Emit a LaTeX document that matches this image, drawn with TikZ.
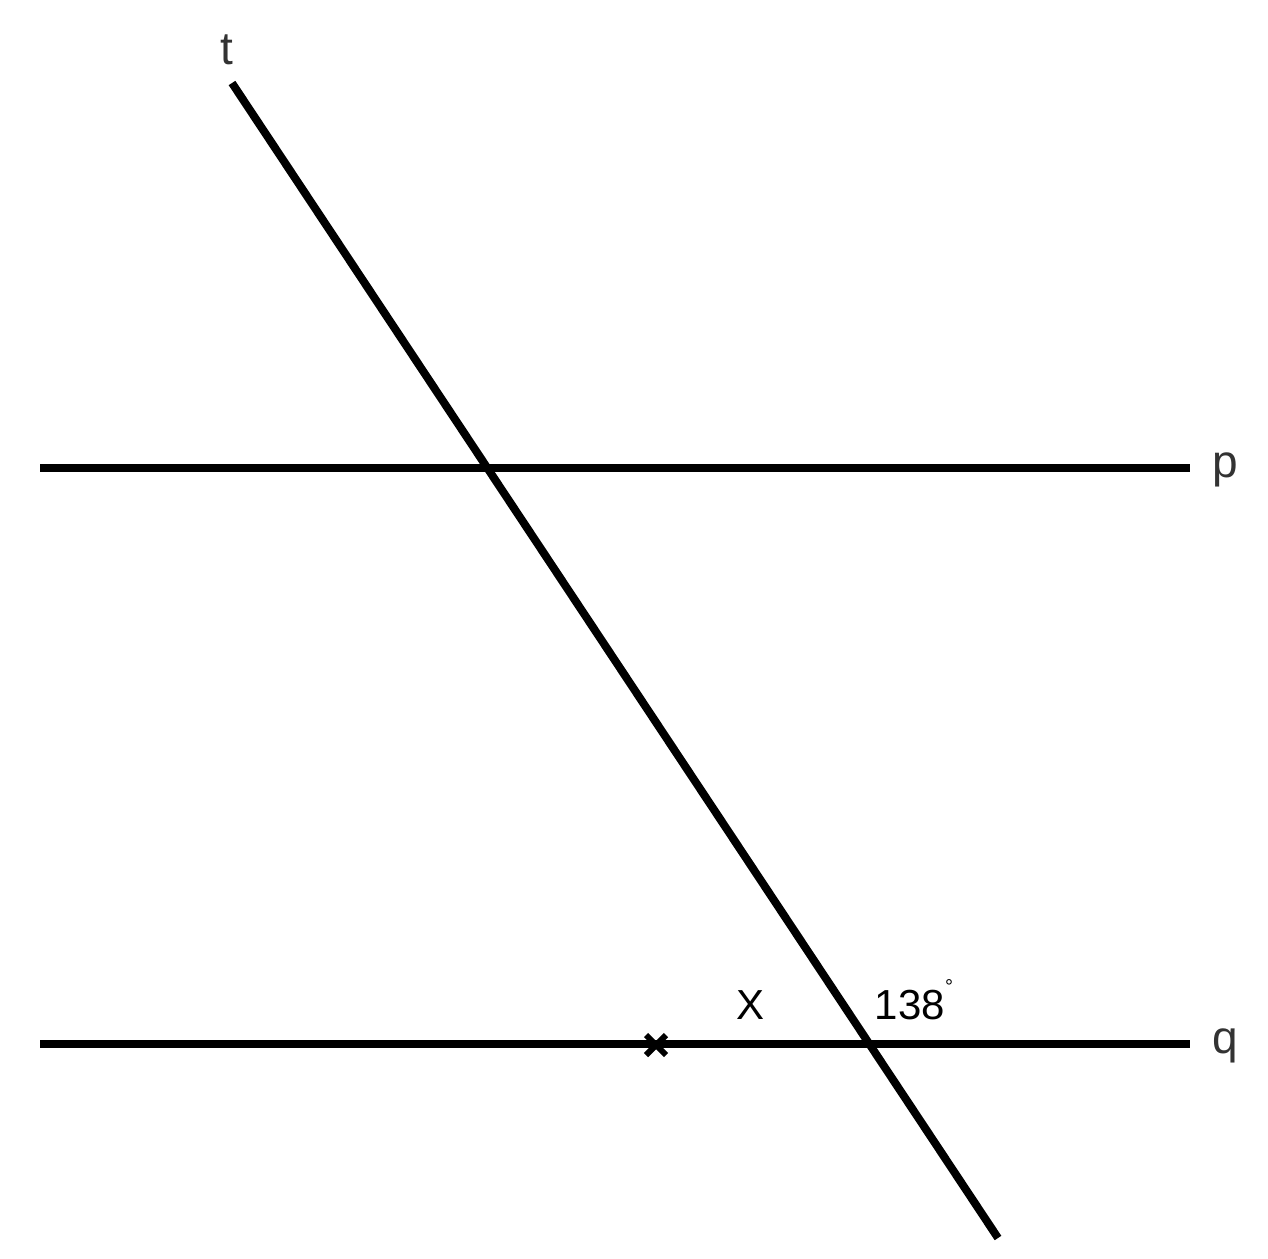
\documentclass[tikz,border=0pt]{standalone}
\usepackage{fontspec}
\setmainfont{Liberation Sans}
\usetikzlibrary{calc}
\begin{document}
\begin{tikzpicture}[x=1pt,y=-1pt,
  ln/.style={line width=8pt},
  lbl/.style={font=\fontsize{46}{50}\selectfont, text=black!80, inner sep=0pt},
  ang/.style={font=\fontsize{42}{46}\selectfont, inner sep=0pt}]
\useasboundingbox (0,0) rectangle (1268,1258);
\coordinate (t1) at (232,83);
\coordinate (t2) at (998,1238);
\coordinate (p1) at (40,468);
\coordinate (p2) at (1190,468);
\coordinate (q1) at (40,1044);
\coordinate (q2) at (1190,1044);
\draw[ln] (p1) -- (p2);
\draw[ln] (q1) -- (q2);
\draw[ln] (t1) -- (t2);
\node[lbl] (lt) at (227,50) {t};
\node[lbl,anchor=west] (lp) at (1212,470) {p};
\node[lbl,anchor=west] (lq) at (1212,1046) {q};
\node[ang] (lx) at (750,1005) {X};
\node[ang] (la) at (910,1005) {138};
\node[font=\fontsize{20}{22}\selectfont, inner sep=0pt] (ldeg) at (949,987) {°};
\coordinate (m) at (656,1045);
\draw[line width=6pt] ($(m)+(-10,-10)$) -- ($(m)+(10,10)$);
\draw[line width=6pt] ($(m)+(-10,10)$) -- ($(m)+(10,-10)$);
\end{tikzpicture}
\end{document}
